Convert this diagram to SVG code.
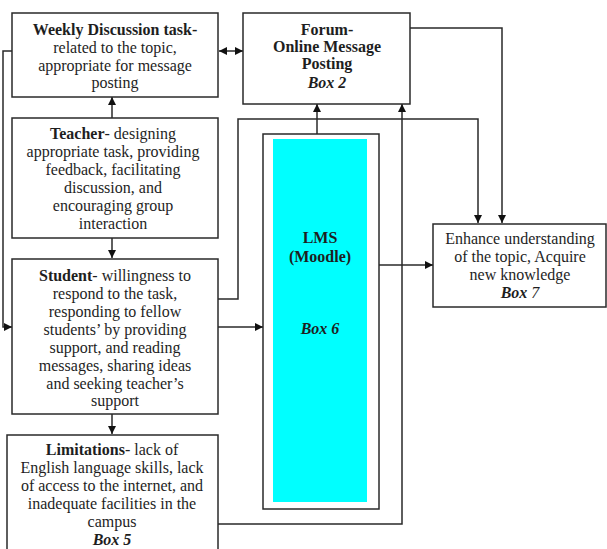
<svg xmlns="http://www.w3.org/2000/svg" width="607" height="549" viewBox="0 0 607 549">
<style>
.box{fill:#fff;stroke:#2a2a2a;stroke-width:1.5}
.ln{fill:none;stroke:#2a2a2a;stroke-width:1.5}
text{font-family:'Liberation Serif','Times New Roman',Times,serif;font-size:16px;fill:#1e1e1e;text-anchor:middle}
.b{font-weight:bold}
.bi{font-weight:bold;font-style:italic}
.i{font-style:italic}
</style>
<defs>
<marker id="ah" viewBox="0 0 10 10" refX="10" refY="5" markerWidth="9" markerHeight="8" markerUnits="userSpaceOnUse" orient="auto-start-reverse">
<path d="M0,0 L10,5 L0,10 z" fill="#111"/>
</marker>
</defs>
<rect width="607" height="549" fill="#fff"/>
<g id="connectors">
<line class="ln" x1="219" y1="51" x2="243" y2="51" marker-start="url(#ah)" marker-end="url(#ah)"/>
<line class="ln" x1="112" y1="118" x2="112" y2="97" marker-end="url(#ah)"/>
<line class="ln" x1="112" y1="238" x2="112" y2="258" marker-end="url(#ah)"/>
<line class="ln" x1="112" y1="414" x2="112" y2="434" marker-end="url(#ah)"/>
<polyline class="ln" points="12,51 3,51 3,327 12,327" marker-end="url(#ah)"/>
<line class="ln" x1="218" y1="327" x2="263" y2="327" marker-end="url(#ah)"/>
<line class="ln" x1="317" y1="134" x2="317" y2="104" marker-end="url(#ah)"/>
<polyline class="ln" points="218,299 238,299 238,119 478,119 478,223" marker-end="url(#ah)"/>
<polyline class="ln" points="410,28 502,28 502,223" marker-end="url(#ah)"/>
<polyline class="ln" points="218,524 402,524 402,104" marker-end="url(#ah)"/>
<line class="ln" x1="379" y1="265" x2="433" y2="265" marker-end="url(#ah)"/>
</g>
<g id="box1">
<rect class="box" x="12" y="13" width="206" height="84"/>
<text x="115" y="35" class="b">Weekly Discussion task-</text>
<text x="115" y="53">related  to the topic,</text>
<text x="115" y="71">appropriate for message</text>
<text x="115" y="88">posting</text>
</g>
<g id="box2">
<rect class="box" x="243" y="13" width="167" height="91"/>
<text x="327" y="35" class="b">Forum-</text>
<text x="327" y="52" class="b">Online Message</text>
<text x="327" y="69" class="b">Posting</text>
<text x="327" y="88" class="bi">Box 2</text>
</g>
<g id="teacher">
<rect class="box" x="12" y="118" width="206" height="120"/>
<text x="113" y="139"><tspan class="b">Teacher</tspan>- designing</text>
<text x="113" y="157">appropriate task, providing</text>
<text x="113" y="175">feedback, facilitating</text>
<text x="113" y="193">discussion, and</text>
<text x="113" y="211">encouraging group</text>
<text x="113" y="229">interaction</text>
</g>
<g id="student">
<rect class="box" x="12" y="259" width="206" height="155"/>
<text x="115" y="281"><tspan class="b">Student</tspan>- willingness to</text>
<text x="115" y="299">respond to the task,</text>
<text x="115" y="317">responding to fellow</text>
<text x="115" y="335">students’ by providing</text>
<text x="115" y="353">support, and reading</text>
<text x="115" y="371">messages, sharing ideas</text>
<text x="115" y="389">and seeking teacher’s</text>
<text x="115" y="406">support</text>
</g>
<g id="box5">
<rect class="box" x="7" y="435" width="211" height="120"/>
<text x="112" y="455"><tspan class="b">Limitations</tspan>- lack of</text>
<text x="112" y="473">English language skills, lack</text>
<text x="112" y="491">of access to the internet, and</text>
<text x="112" y="509">inadequate facilities in the</text>
<text x="112" y="527">campus</text>
<text x="112" y="545" class="bi">Box 5</text>
</g>
<g id="box6">
<rect class="box" x="263" y="134" width="116" height="375"/>
<rect x="273" y="139" width="94" height="363" fill="#00ffff"/>
<text x="320" y="243" class="b">LMS</text>
<text x="320" y="262" class="b">(Moodle)</text>
<text x="320" y="334" class="bi">Box 6</text>
</g>
<g id="box7">
<rect class="box" x="433" y="224" width="173" height="83"/>
<text x="520" y="244">Enhance understanding</text>
<text x="520" y="262">of the topic, Acquire</text>
<text x="520" y="280">new knowledge</text>
<text x="520" y="298"><tspan class="bi">Box</tspan><tspan class="i"> 7</tspan></text>
</g>
</svg>
